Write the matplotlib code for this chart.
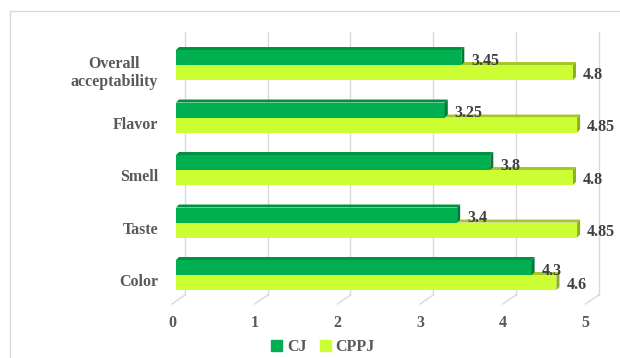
import matplotlib
matplotlib.use("Agg")
import matplotlib.pyplot as plt
import numpy as np
from matplotlib.lines import Line2D
from matplotlib.patches import Patch, Polygon
from matplotlib.transforms import ScaledTranslation, blended_transform_factory

plt.rcParams["font.family"] = ["Liberation Serif", "DejaVu Serif"]
plt.rcParams["font.weight"] = "bold"
plt.rcParams["font.size"] = 11.5

# 感官评分（从下到上）
categories = ["Color", "Taste", "Smell", "Flavor", "Overall\nacceptability"]
cj = [4.3, 3.4, 3.8, 3.25, 3.45]
cppj = [4.6, 4.85, 4.8, 4.85, 4.8]
series_names = ["CJ", "CPPJ"]
x_ticks = [0, 1, 2, 3, 4, 5]

TXT = "#595959"
GRID = "#d9d9d9"
# (正面, 顶面, 侧面)
CJ_COLS = ("#00b050", "#00913f", "#007a35")
CPPJ_COLS = ("#ccff33", "#a3c72a", "#8fae1f")

fig = plt.figure(figsize=(6.2, 3.58), dpi=100, facecolor="white")
W, H = 620, 358
ax = fig.add_axes([176 / W, 1 - 304 / H, 413.5 / W, 272 / H])
ax.set_xlim(0, 5)
ax.set_ylim(-0.552, 4.629)
ax.axis("on")
for s in ax.spines.values():
    s.set_visible(False)
ax.set_facecolor("none")

# 每像素对应的数据单位
upx = 5 / ax.bbox.width
upy = (4.629 + 0.552) / ax.bbox.height
depth = 3  # 立体厚度（像素）
back = 9   # 背景墙相对前缘的纵深（像素）

# 背景网格（后墙竖线 + 底面斜线）
bt = blended_transform_factory(ax.transData, ax.transAxes)
for v in x_ticks:
    ax.plot([v + back * upx, v + back * upx], [back / ax.bbox.height, 1.0],
            transform=bt, color=GRID, lw=1.0, zorder=0, clip_on=False)
    ax.plot([v - 4 * upx, v + back * upx], [0, back / ax.bbox.height],
            transform=bt, color=GRID, lw=1.0, zorder=0, clip_on=False)

bar_h = 15 / 52.5
y = np.arange(len(categories))


def bar3d(yb, val, cols, z):
    front, top, side = cols
    ax.barh(yb, val, height=bar_h, align="edge", color=front, lw=0, zorder=z)
    dx, dy = depth * upx, depth * upy
    yt = yb + bar_h
    ax.add_patch(Polygon([(0, yt), (val, yt), (val + dx, yt + dy), (dx, yt + dy)],
                         closed=True, fc=top, lw=0, zorder=z))
    ax.add_patch(Polygon([(val, yb), (val + dx, yb + dy), (val + dx, yt + dy), (val, yt)],
                         closed=True, fc=side, lw=0, zorder=z))


for i in range(len(categories)):
    bar3d(y[i] - bar_h, cppj[i], CPPJ_COLS, 2 + i * 2)
    bar3d(y[i], cj[i], CJ_COLS, 3 + i * 2)

for i in range(len(categories)):
    ax.annotate(f"{cj[i]:g}", xy=(cj[i], y[i] + bar_h / 2), xytext=(10, -3),
                textcoords="offset pixels", ha="left", va="center",
                color="#404040", zorder=20)
    ax.annotate(f"{cppj[i]:g}", xy=(cppj[i], y[i] - bar_h / 2), xytext=(10, -2),
                textcoords="offset pixels", ha="left", va="center",
                color="#404040", zorder=20)

ax.set_xticks(x_ticks)
ax.set_xticklabels([str(t) for t in x_ticks], color=TXT)
ax.tick_params(axis="x", length=0, pad=8)
for lab in ax.get_xticklabels():
    lab.set_transform(lab.get_transform() + ScaledTranslation(-4 / 100, 0, fig.dpi_scale_trans))

ax.set_yticks(y)
ax.set_yticklabels(categories, color=TXT, multialignment="center")
ax.tick_params(axis="y", length=0, pad=13)
for lab in ax.get_yticklabels():
    lab.set_transform(lab.get_transform() + ScaledTranslation(0, -5 / 100, fig.dpi_scale_trans))

handles = [Patch(color=CJ_COLS[0]), Patch(color=CPPJ_COLS[0])]
fig.legend(handles, series_names, loc="center", bbox_to_anchor=(323 / W, 1 - 347 / H),
           ncol=2, frameon=False, handlelength=0.7, handleheight=0.7,
           handletextpad=0.3, columnspacing=0.8, labelcolor=TXT, borderpad=0)

# 图表外框
fig.add_artist(Line2D([10 / W, 10 / W], [0, 1 - 11 / H], color=GRID, lw=1.0))
fig.add_artist(Line2D([10 / W, 1], [1 - 11 / H, 1 - 11 / H], color=GRID, lw=1.0))

fig.savefig("out.png", dpi=100)
